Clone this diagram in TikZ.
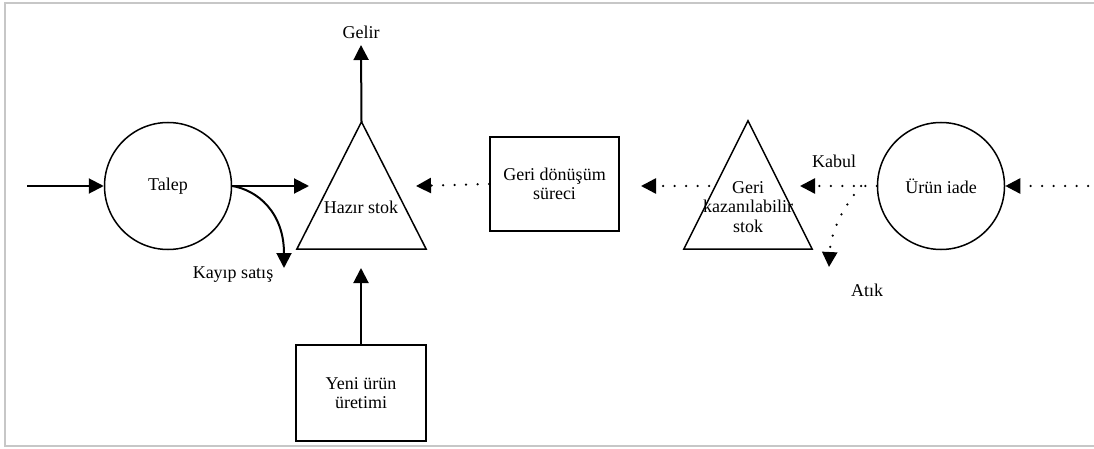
\documentclass[tikz,border=0pt]{standalone}
\usepackage{fontspec}
\setmainfont{Liberation Serif}
\newfontfamily\labelface{Liberation Serif}
\usetikzlibrary{arrows.meta}
\begin{document}
\begin{tikzpicture}[x=1pt,y=-1pt,
  every node/.style={font=\labelface\fontsize{18}{19.5}\selectfont, inner sep=0pt, align=center},
  shapeline/.style={draw=black, line width=1.5pt},
  boxline/.style={draw=black, line width=1.8pt},
  tip/.style={-{Triangle[length=15pt,width=15pt]}},
  flow/.style={tip, line width=2pt},
  dotflow/.style={tip, line width=2.5pt, line cap=round, dash pattern=on 0pt off 11.5pt},
  frameline/.style={draw=black!22, line width=2pt}]
\useasboundingbox (0,0) rectangle (1094,449);
% outer frame
\draw[frameline] (1094,3) -- (5,3) -- (5,446) -- (1094,446);

% demand and returns
\node[circle, shapeline, minimum size=127pt] (talep) at (168,186) {Talep};
\node[circle, shapeline, minimum size=127pt] (iade) at (941,186) {Ürün iade};

% ready stock (triangle)
\node[minimum width=129pt, minimum height=127pt] (hazir) at (361.5,185.5) {};
\draw[shapeline, line join=miter] (hazir.north) -- (hazir.south east) -- (hazir.south west) -- cycle;
\node (hazirtext) at (361,207) {Hazır stok};

% recoverable stock (triangle)
\node[minimum width=128pt, minimum height=128pt] (geri) at (748,185) {};
\draw[shapeline, line join=miter] (geri.north) -- (geri.south east) -- (geri.south west) -- cycle;
\node (geritext) at (748,207) {Geri\\kazanılabilir\\stok};

% processes
\node[boxline, minimum width=129pt, minimum height=94pt] (donusum) at (554.5,184) {Geri dönüşüm\\süreci};
\node[boxline, minimum width=130pt, minimum height=96pt] (yeni) at (361,393) {Yeni ürün\\üretimi};

% labels
\node (gelir) at (361,32) {Gelir};
\node (kayip) at (233,275) {Kayıp satış};
\node (kabul) at (834,161) {Kabul};
\node (atik) at (867,290) {Atık};

% end points of the flows
\coordinate (src) at (27,186);
\coordinate (hzL) at (309,186);
\coordinate (kayiptip) at (284,268);
\coordinate (gelirtip) at (361,45);
\coordinate (hzB) at (361,268);
\coordinate (hzR) at (416,186);
\coordinate (dnR) at (641,186);
\coordinate (gkL) at (709,186);
\coordinate (gkR) at (800,186);
\coordinate (ayrim) at (861,186);
\coordinate (atiktip) at (829,267);
\coordinate (rin) at (1088,186);

% solid flows
\draw[flow] (src) -- (talep.west);
\draw[flow] (talep.east) -- (hzL);
\draw[flow] (talep.east) .. controls (257,190) and (284,212) .. (kayiptip);
\draw[flow] (hazir.north) -- (gelirtip);
\draw[flow] (yeni.north) -- (hzB);

% dotted flows
\draw[dotflow] (rin) -- (iade.east);
\draw[dotflow] (iade.west) -- (gkR);
\draw[dotflow] (ayrim) .. controls (849,200) and (831,226) .. (atiktip);
\draw[dotflow] (gkL) -- (dnR);
\draw[dotflow] (donusum.west) -- (hzR);
\end{tikzpicture}
\end{document}
